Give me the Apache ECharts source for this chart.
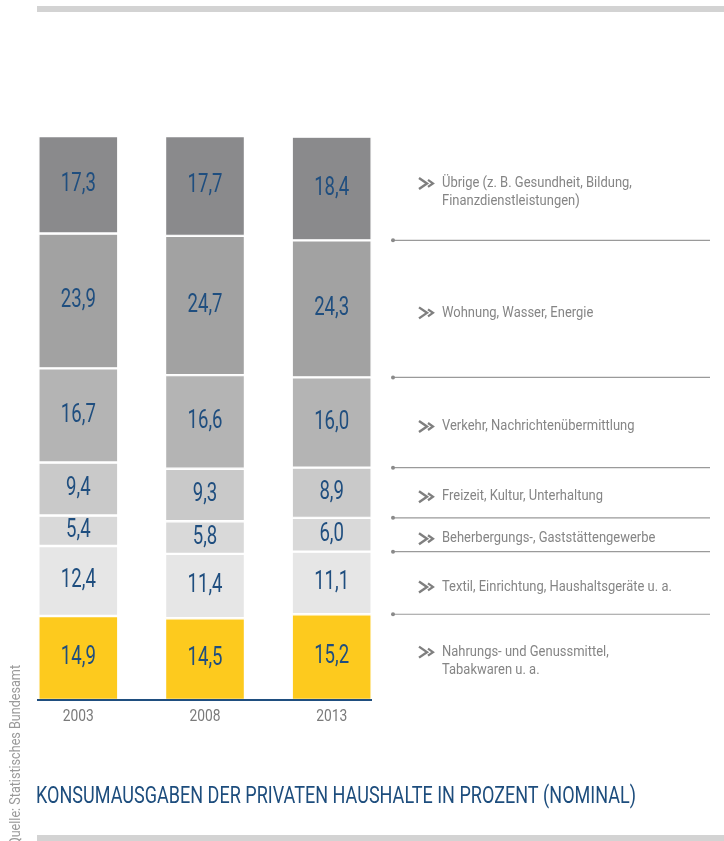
<!DOCTYPE html>
<html>
<head>
<meta charset="utf-8">
<script src="https://cdn.jsdelivr.net/npm/echarts@6/dist/echarts.min.js"></script>
<style>
  html, body { margin: 0; padding: 0; background: #fff; }
  #chart { width: 724px; height: 841px; }
</style>
</head>
<body>
<div id="chart"></div>
<script>
"use strict";
// Konsumausgaben der privaten Haushalte in Prozent (nominal)
const years = ['2003', '2008', '2013'];

// stack order from bottom to top
const nahrung = [14.9, 14.5, 15.2];
const textil = [12.4, 11.4, 11.1];
const beherbergung = [5.4, 5.8, 6.0];
const freizeit = [9.4, 9.3, 8.9];
const verkehr = [16.7, 16.6, 16.0];
const wohnung = [23.9, 24.7, 24.3];
const uebrige = [17.3, 17.7, 18.4];

const names = [
  'Nahrungs- und Genussmittel,\nTabakwaren u. a.',
  'Textil, Einrichtung, Haushaltsgeräte u. a.',
  'Beherbergungs-, Gaststättengewerbe',
  'Freizeit, Kultur, Unterhaltung',
  'Verkehr, Nachrichtenübermittlung',
  'Wohnung, Wasser, Energie',
  'Übrige (z. B. Gesundheit, Bildung,\nFinanzdienstleistungen)'
];
const colors = ['#fdca1e', '#e6e6e6', '#d9d9d9', '#c9c9c9', '#b4b4b4', '#a2a2a2', '#8a8a8c'];

const FONT = "Roboto, 'DejaVu Sans', sans-serif";
const TITLE = 'KONSUMAUSGABEN DER PRIVATEN HAUSHALTE IN PROZENT (NOMINAL)';

// squeeze the (non-condensed) fonts to the narrow look of the original
const measureCtx = document.createElement('canvas').getContext('2d');
function fitScale(text, font, target) {
  measureCtx.font = font;
  return target / measureCtx.measureText(text).width;
}
const VALUE_FONT = '25px ' + FONT;
const LABEL_FONT = '15px ' + FONT;
const TITLE_FONT = '23px ' + FONT;
const YEAR_FONT = '16px ' + FONT;
const valueScale = fitScale('17,3', VALUE_FONT, 35);
const labelScale = fitScale('Freizeit, Kultur, Unterhaltung', LABEL_FONT, 161);
const titleScale = fitScale(TITLE, TITLE_FONT, 600);
const yearScale = fitScale('2003', YEAR_FONT, 31);

const chart = echarts.init(document.getElementById('chart'), null, { renderer: 'canvas' });

const stacks = [nahrung, textil, beherbergung, freizeit, verkehr, wohnung, uebrige];

// value label positions: [category, segment middle, value]
let valueData = [];
for (let c = 0; c < years.length; c++) {
  let base = 0;
  for (let i = 0; i < stacks.length; i++) {
    valueData.push([c, base + stacks[i][c] / 2, stacks[i][c]]);
    base += stacks[i][c];
  }
}

// right-hand legend: segment bounds taken from the 2013 column
let legendData = [];
let acc = 0;
for (let i = 0; i < stacks.length; i++) {
  let low = acc;
  acc += stacks[i][2];
  legendData.push([low, acc, i]);
}

let series = stacks.map(function (vals, i) {
  return {
    name: names[i],
    type: 'bar',
    stack: 'total',
    barWidth: 80,
    data: vals,
    itemStyle: { color: colors[i], borderColor: '#fff', borderWidth: 1.2 },
    xAxisIndex: 0,
    yAxisIndex: 0
  };
});

series.push({
  type: 'custom',
  xAxisIndex: 0,
  yAxisIndex: 0,
  data: valueData,
  silent: true,
  z: 5,
  renderItem: function (params, api) {
    let p = api.coord([api.value(0), api.value(1)]);
    return {
      type: 'text',
      x: p[0],
      y: p[1],
      scaleX: valueScale,
      style: {
        text: api.value(2).toFixed(1).replace('.', ','),
        font: VALUE_FONT,
        fill: '#1f4e7f',
        align: 'center',
        verticalAlign: 'middle'
      }
    };
  }
});

series.push({
  type: 'custom',
  xAxisIndex: 1,
  yAxisIndex: 1,
  data: legendData,
  silent: true,
  renderItem: function (params, api) {
    let low = api.value(0), high = api.value(1), idx = api.value(2);
    let p0 = api.coord([0, low]);
    let p1 = api.coord([1, low]);
    let mid = api.coord([0, (low + high) / 2]);
    let children = [];
    if (low > 0) {
      children.push({
        type: 'line',
        shape: { x1: p0[0], y1: p0[1], x2: p1[0], y2: p1[1] },
        style: { stroke: '#9a9a9a', lineWidth: 1.2 }
      });
      children.push({
        type: 'circle',
        shape: { cx: p0[0], cy: p0[1], r: 2 },
        style: { fill: '#8a8a8a' }
      });
    }
    let lines = names[idx].split('\n').length;
    let ty = mid[1] + 4;
    let topY = ty - (lines - 1) * 9;
    let cx = p0[0] + 26;
    // chevrons ">>"
    children.push({
      type: 'polyline',
      shape: { points: [[cx, topY - 5.5], [cx + 8, topY], [cx, topY + 5.5]] },
      style: { stroke: '#7f7f7f', lineWidth: 2.4, fill: null, lineJoin: 'miter' }
    });
    children.push({
      type: 'polyline',
      shape: { points: [[cx + 9, topY - 3.5], [cx + 14, topY], [cx + 9, topY + 3.5]] },
      style: { stroke: '#7f7f7f', lineWidth: 2.2, fill: null, lineJoin: 'miter' }
    });
    children.push({
      type: 'text',
      x: p0[0] + 49,
      y: ty,
      scaleX: labelScale,
      style: {
        text: names[idx],
        font: LABEL_FONT,
        fill: '#858585',
        lineHeight: 18,
        verticalAlign: 'middle'
      }
    });
    return { type: 'group', children: children };
  }
});

// year labels under the bars
series.push({
  type: 'custom',
  xAxisIndex: 0,
  yAxisIndex: 0,
  data: years.map(function (y, i) { return [i, 0]; }),
  silent: true,
  renderItem: function (params, api) {
    let p = api.coord([api.value(0), 0]);
    return {
      type: 'text',
      x: p[0],
      y: p[1] + 17,
      scaleX: yearScale,
      style: {
        text: years[api.value(0)],
        font: YEAR_FONT,
        fill: '#7a7a7a',
        align: 'center',
        verticalAlign: 'middle'
      }
    };
  }
});

const option = {
  animation: false,
  grid: [
    { left: 15, width: 380, top: 136, bottom: 141 },
    { left: 393, right: 14, top: 136, bottom: 141 }
  ],
  xAxis: [
    {
      type: 'category',
      data: years,
      gridIndex: 0,
      axisLine: { show: false },
      axisTick: { show: false },
      axisLabel: { show: false }
    },
    { type: 'value', gridIndex: 1, min: 0, max: 1, show: false }
  ],
  yAxis: [
    { type: 'value', gridIndex: 0, min: 0, max: 100, show: false },
    { type: 'value', gridIndex: 1, min: 0, max: 100, show: false }
  ],
  graphic: [
    { type: 'rect', shape: { x: 37, y: 6, width: 687, height: 6 }, style: { fill: '#d3d3d3' } },
    { type: 'rect', shape: { x: 37, y: 835, width: 687, height: 6 }, style: { fill: '#d3d3d3' } },
    { type: 'line', shape: { x1: 37, y1: 700, x2: 372, y2: 700 }, style: { stroke: '#1f4e7f', lineWidth: 2 }, z: 10 },
    {
      type: 'text', x: 36, y: 797, scaleX: titleScale,
      style: {
        text: TITLE,
        font: TITLE_FONT, fill: '#1d4d7d', verticalAlign: 'middle'
      }
    },
    {
      type: 'text', x: 16, y: 846, rotation: Math.PI / 2, scaleX: 0.9,
      style: {
        text: 'Quelle: Statistisches Bundesamt',
        font: '14px ' + FONT, fill: '#9a9a9a', verticalAlign: 'middle', align: 'left'
      }
    }
  ],
  series: series
};

chart.setOption(option);
</script>
</body>
</html>
